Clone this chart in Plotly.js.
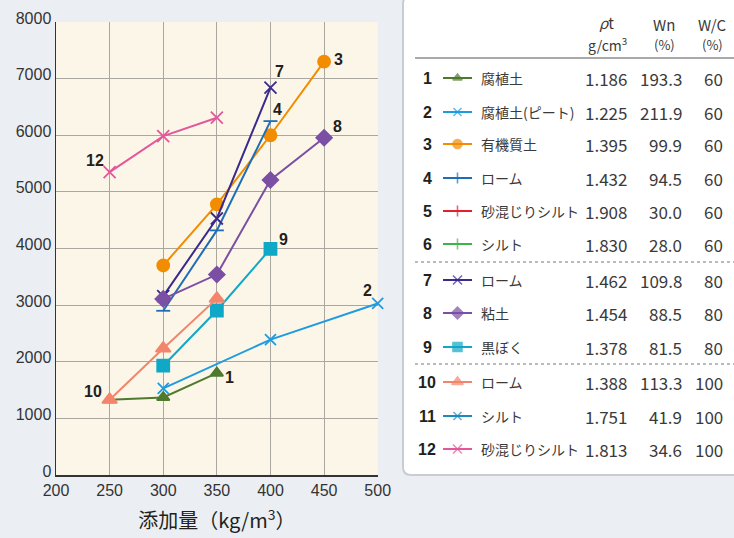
<!DOCTYPE html>
<html><head><meta charset="utf-8">
<script src="https://cdn.plot.ly/plotly-3.0.1.min.js"></script>
<style>html,body{margin:0;padding:0;background:#ebeff3}</style>
</head><body>
<div id="chart" style="width:734px;height:538px"></div>
<script>
// ---- data ----
const seriesNo   = ['1','2','3','4','5','6','7','8','9','10','11','12'];
const seriesName = ['腐植土','腐植土(ピート)','有機質土','ローム','砂混じりシルト','シルト','ローム','粘土','黒ぼく','ローム','シルト','砂混じりシルト'];
const rhoT = ['1.186','1.225','1.395','1.432','1.908','1.830','1.462','1.454','1.378','1.388','1.751','1.813'];
const wn   = ['193.3','211.9','99.9','94.5','30.0','28.0','109.8','88.5','81.5','113.3','41.9','34.6'];
const wc   = ['60','60','60','60','60','60','80','80','80','100','100','100'];

const x1 = [250,300,350],      y1 = [1330,1370,1800];
const x2 = [300,400,500],      y2 = [1530,2390,3030];
const x3 = [300,350,400,450],  y3 = [3700,4780,6000,7300];
const x4 = [300,350,400],      y4 = [2900,4320,6250];
const x5 = [],                 y5 = [];
const x6 = [],                 y6 = [];
const x7 = [300,350,400],      y7 = [3160,4530,6840];
const x8 = [300,350,400,450],  y8 = [3110,3540,5210,5955];
const x9 = [300,350,400],      y9 = [1930,2905,3995];
const x10 = [250,300,350],     y10 = [1330,2235,3115];
const x11 = [],                y11 = [];
const x12 = [250,300,350],     y12 = [5350,5985,6310];

const xTicks = [200,250,300,350,400,450,500];
const yTicks = [0,1000,2000,3000,4000,5000,6000,7000,8000];

// ---- styles ----
const xs = [x1,x2,x3,x4,x5,x6,x7,x8,x9,x10,x11,x12];
const ys = [y1,y2,y3,y4,y5,y6,y7,y8,y9,y10,y11,y12];
const colors = ['#4f7a2e','#1f9be0','#f28c00','#1f6db6','#e5202e','#3db54a','#3a2a8e','#7b4fa3','#0fa8c6','#f2856c','#1c8abb','#e3589a'];
const symbols = ['triangle-up','x-thin-open','circle','cross-thin-open','cross-thin-open','cross-thin-open','x-thin-open','diamond','square','triangle-up','x-thin-open','x-thin-open'];
const plotSymbols = ['triangle-up','x-thin-open','circle','line-ew-open','cross-thin-open','cross-thin-open','x-thin-open','diamond','square','triangle-up','x-thin-open','x-thin-open'];
const sizes = [11,11,12,10,11,11,12,12,12,13,11,12];
// label placement offsets (px) relative to the last/first point
const labelAt  = ['last','last','last','last',null,null,'last','last','last','first',null,'first'];
const labelOff = [[13,-4],[-10,13],[14,2],[7,12],null,null,[9,16],[13,11],[13,9],[-17,8],null,[-15,12]];

const W = 734, H = 538;
const PX = x => x / W, PY = y => 1 - y / H;
const rowY = [78,112,144,178,211,244,280,313,347,382,416,449];

const traces = [];
xs.forEach((xv, i) => {
  if (!xv.length) return;
  traces.push({
    x: xv, y: ys[i], type: 'scatter', mode: 'lines+markers',
    line: {color: colors[i], width: 2},
    marker: {symbol: plotSymbols[i], size: sizes[i], color: colors[i],
             line: {color: colors[i], width: 1.8}},
    cliponaxis: false, showlegend: false, hoverinfo: 'x+y'
  });
});
// legend samples on a pixel-mapped overlay axis
seriesNo.forEach((n, i) => {
  traces.push({
    x: [443, 457.5, 472], y: [rowY[i], rowY[i], rowY[i]],
    xaxis: 'x2', yaxis: 'y2', type: 'scatter', mode: 'lines+markers',
    line: {color: colors[i], width: 2},
    marker: {symbol: symbols[i], size: [0, Math.max(8, sizes[i]-3), 0], color: colors[i],
             line: {color: colors[i], width: 1.6}},
    cliponaxis: false, showlegend: false, hoverinfo: 'skip'
  });
});

const annotations = [];
// data labels
seriesNo.forEach((n, i) => {
  if (!labelAt[i]) return;
  const k = labelAt[i] === 'last' ? xs[i].length - 1 : 0;
  annotations.push({x: xs[i][k], y: ys[i][k], xref: 'x', yref: 'y', text: n, showarrow: false,
    xshift: labelOff[i][0], yshift: labelOff[i][1],
    font: {family: 'Liberation Sans, Arial, sans-serif', size: 16, color: '#231f20', weight: 'bold'}});
});
// legend table
const tf = 'Noto Sans CJK JP, Noto Sans, sans-serif';
const txt = (x, y, t, xa, size, extra) => annotations.push(Object.assign({
  x: PX(x), y: PY(y), xref: 'paper', yref: 'paper', text: t, showarrow: false,
  xanchor: xa, yanchor: 'middle', font: {family: tf, size: size, color: '#3a3a3a'}}, extra || {}));
txt(606, 23, '<i>ρ</i>t', 'center', 15);
txt(607, 44, 'g/cm<sup>3</sup>', 'center', 14);
txt(664, 25, 'Wn', 'center', 15);
txt(664, 44, '(%)', 'center', 13);
txt(712, 25, 'W/C', 'center', 15);
txt(712, 44, '(%)', 'center', 13);
seriesNo.forEach((n, i) => {
  const y = rowY[i];
  txt(427, y, '<b>' + n + '</b>', 'center', 16, {font: {family: 'Liberation Sans, Arial, sans-serif', size: 16, color: '#231f20'}});
  txt(479, y, seriesName[i], 'left', 14);
  txt(629, y, rhoT[i], 'right', 17);
  txt(684, y, wn[i], 'right', 17);
  txt(725, y, wc[i], 'right', 17);
});

// rounded legend panel path (paper coords)
const r = 8, L = 403, T = -4, B = 475, R = 745;
const panelPath = `M ${PX(R)},${PY(T)} L ${PX(L+r)},${PY(T)} Q ${PX(L)},${PY(T)} ${PX(L)},${PY(T+r)} ` +
  `L ${PX(L)},${PY(B-r)} Q ${PX(L)},${PY(B)} ${PX(L+r)},${PY(B)} L ${PX(R)},${PY(B)} Z`;

const shapes = [
  {type: 'rect', xref: 'x domain', yref: 'y domain', x0: 0, x1: 1, y0: 0, y1: 1,
   fillcolor: '#fcf6e8', line: {width: 0}, layer: 'below'},
  {type: 'path', xref: 'paper', yref: 'paper', path: panelPath, fillcolor: '#ffffff',
   line: {color: '#c9cdd1', width: 2}, layer: 'below'},
  {type: 'line', xref: 'paper', yref: 'paper', x0: PX(415), x1: PX(734), y0: PY(58), y1: PY(58),
   line: {color: '#555555', width: 1.2}},
  {type: 'line', xref: 'paper', yref: 'paper', x0: PX(415), x1: PX(734), y0: PY(262), y1: PY(262),
   line: {color: '#777777', width: 1.2, dash: 'dot'}},
  {type: 'line', xref: 'paper', yref: 'paper', x0: PX(415), x1: PX(734), y0: PY(364), y1: PY(364),
   line: {color: '#777777', width: 1.2, dash: 'dot'}}
];

const tickFont = {family: 'Liberation Sans, Arial, sans-serif', size: 16, color: '#333333'};
const layout = {
  width: W, height: H,
  margin: {l: 0, r: 0, t: 0, b: 0},
  paper_bgcolor: '#ebeff3', plot_bgcolor: 'rgba(0,0,0,0)',
  showlegend: false,
  xaxis: {domain: [PX(56), PX(377.7)], range: [200, 500], tickvals: xTicks, ticktext: xTicks.map(String),
    showgrid: true, gridcolor: '#aaa7a1', gridwidth: 1, zeroline: false,
    showline: true, linecolor: '#333333', linewidth: 1.5, mirror: false, ticks: '',
    tickfont: tickFont, fixedrange: true,
    title: {text: '添加量（kg/m<sup>3</sup>）', font: {family: 'Noto Sans CJK JP, sans-serif', size: 20, color: '#231f20'}, standoff: 16}},
  yaxis: {domain: [PY(475), PY(22)], range: [0, 8000], tickvals: yTicks, ticktext: yTicks.map(String),
    showgrid: true, gridcolor: '#aaa7a1', gridwidth: 1, zeroline: false,
    showline: true, linecolor: '#333333', linewidth: 1.5, mirror: false, ticks: '',
    tickfont: tickFont, fixedrange: true, ticklabelshift: -4},
  xaxis2: {domain: [0, 1], range: [0, W], visible: false, fixedrange: true, anchor: 'y2'},
  yaxis2: {domain: [0, 1], range: [H, 0], visible: false, fixedrange: true, anchor: 'x2'},
  shapes: shapes,
  annotations: annotations
};

Plotly.newPlot('chart', traces, layout, {displayModeBar: false, staticPlot: true});
</script>
</body></html>
